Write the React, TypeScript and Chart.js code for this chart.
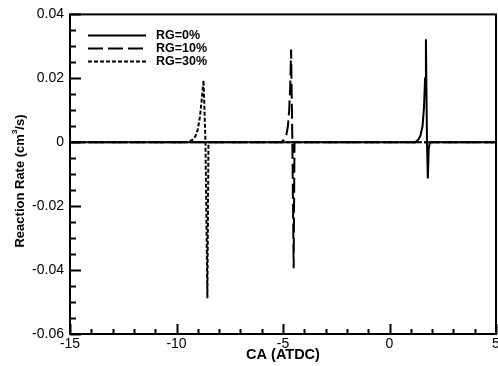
import React, { useEffect, useRef } from "react";
import { Chart, registerables } from "chart.js";
Chart.register(...registerables);

const seriesLabels = ["RG=0%", "RG=10%", "RG=30%"];
const x0 = [-15, 1.2, 1.35, 1.45, 1.55, 1.62, 1.67, 1.71, 1.76, 1.8, 1.84, 1.9, 5];
const y0 = [0, 0, 0.0008, 0.002, 0.005, 0.011, 0.02, 0.0322, 0.0, -0.0113, -0.002, 0, 0];
const x10 = [-15, -5.1, -4.95, -4.85, -4.77, -4.71, -4.66, -4.62, -4.56, -4.5, -4.46, 5];
const y10 = [0, 0, 0.0008, 0.002, 0.005, 0.01, 0.018, 0.029, 0, -0.0394, 0, 0];
const x30 = [-15, -9.45, -9.25, -9.1, -9.0, -8.9, -8.82, -8.73, -8.64, -8.55, -8.5, 5];
const y30 = [0, 0, 0.0008, 0.002, 0.004, 0.008, 0.013, 0.0194, 0, -0.0488, 0, 0];
const dashes = [[], [15, 5], [4, 2]];

const xTitle = "CA (ATDC)";
const yTitleParts = ["Reaction Rate (cm", "3", "/s)"];

const xMin = -15, xMax = 5, xMajor = 5, xMinor = 1;
const yMin = -0.06, yMax = 0.04, yMajor = 0.02, yMinor = 0.005;

const FONT = "'Liberation Sans', Arial, sans-serif";
const zip = (xs: number[], ys: number[]) => xs.map((x, i) => ({ x, y: ys[i] }));

export default function App() {
  const ref = useRef<HTMLCanvasElement>(null);
  useEffect(() => {
    const ticksPlugin = {
      id: "frameTicks",
      afterDraw(chart: any) {
        const { ctx, chartArea: a, scales } = chart;
        const xs = scales.x, ys = scales.y;
        ctx.save();
        ctx.strokeStyle = "#000";
        ctx.lineWidth = 2;
        ctx.strokeRect(a.left, a.top, a.right - a.left, a.bottom - a.top);
        ctx.beginPath();
        for (let v = xMin; v <= xMax + 1e-9; v += xMinor) {
          const px = Math.round(xs.getPixelForValue(v)) + 0.5;
          const major = Math.abs(v / xMajor - Math.round(v / xMajor)) < 1e-6;
          ctx.moveTo(px, a.bottom);
          ctx.lineTo(px, a.bottom - (major ? 10 : 5));
        }
        for (let v = yMin; v <= yMax + 1e-9; v += yMinor) {
          const py = Math.round(ys.getPixelForValue(v)) + 0.5;
          const major = Math.abs(v / yMajor - Math.round(v / yMajor)) < 1e-6;
          ctx.moveTo(a.left, py);
          ctx.lineTo(a.left + (major ? 11 : 6), py);
        }
        ctx.stroke();
        // legend
        const lx0 = a.left + 18, lx1 = a.left + 76, tx = a.left + 86;
        ctx.font = `bold 12.5px ${FONT}`;
        ctx.fillStyle = "#000";
        ctx.textBaseline = "middle";
        ctx.textAlign = "left";
        seriesLabels.forEach((lab, i) => {
          const ly = a.top + 21 + i * 13;
          ctx.beginPath();
          ctx.setLineDash(dashes[i]);
          ctx.lineWidth = 2;
          ctx.moveTo(lx0, ly);
          ctx.lineTo(lx1, ly);
          ctx.stroke();
          ctx.setLineDash([]);
          ctx.fillText(lab, tx, ly);
        });
        // x title
        ctx.font = `bold 14.5px ${FONT}`;
        ctx.textAlign = "center";
        ctx.textBaseline = "middle";
        ctx.fillText(xTitle, (a.left + a.right) / 2, 355);
        // y title with superscript
        const big = `bold 13px ${FONT}`, small = `bold 8px ${FONT}`;
        ctx.font = big;
        const w0 = ctx.measureText(yTitleParts[0]).width;
        const w2 = ctx.measureText(yTitleParts[2]).width;
        ctx.font = small;
        const w1 = ctx.measureText(yTitleParts[1]).width;
        const total = w0 + w1 + w2;
        ctx.translate(20, 181);
        ctx.rotate(-Math.PI / 2);
        ctx.textAlign = "left";
        ctx.textBaseline = "middle";
        let cx = -total / 2;
        ctx.font = big;
        ctx.fillText(yTitleParts[0], cx, 0);
        cx += w0;
        ctx.font = small;
        ctx.fillText(yTitleParts[1], cx, -5);
        cx += w1;
        ctx.font = big;
        ctx.fillText(yTitleParts[2], cx, 0);
        ctx.restore();
      },
    };
    const data = [zip(x0, y0), zip(x10, y10), zip(x30, y30)];
    const chart = new Chart(ref.current!, {
      type: "line",
      data: {
        datasets: data.map((d, i) => ({
          label: seriesLabels[i],
          data: d,
          borderColor: "#000",
          borderWidth: 2,
          borderDash: dashes[i],
          pointRadius: 0,
          tension: 0,
          fill: false,
        })),
      },
      options: {
        animation: false,
        responsive: false,
        maintainAspectRatio: false,
        layout: { padding: { top: 13, right: 10, left: 0, bottom: 0 } },
        plugins: { legend: { display: false }, tooltip: { enabled: false } },
        scales: {
          x: {
            type: "linear",
            min: xMin,
            max: xMax,
            grid: { display: false, drawTicks: false },
            border: { display: false },
            ticks: {
              stepSize: xMajor,
              color: "#000",
              padding: 2,
              font: { family: FONT, size: 14 },
            },
            afterFit: (s: any) => { s.height = 32; },
          },
          y: {
            type: "linear",
            min: yMin,
            max: yMax,
            grid: { display: false, drawTicks: false },
            border: { display: false },
            ticks: {
              stepSize: yMajor,
              color: "#000",
              padding: 6,
              font: { family: FONT, size: 14 },
              callback: (v: any) => {
                const n = Math.round(Number(v) * 100) / 100;
                return n === 0 ? "0" : n.toFixed(2);
              },
            },
            afterFit: (s: any) => { s.width = 70; },
          },
        },
      },
      plugins: [ticksPlugin],
    });
    return () => chart.destroy();
  }, []);
  return (
    <div style={{ position: "fixed", left: 0, top: 0, width: 498, height: 366, overflow: "hidden", background: "#fff" }}>
      <canvas ref={ref} width={506} height={366} style={{ display: "block" }} />
    </div>
  );
}
